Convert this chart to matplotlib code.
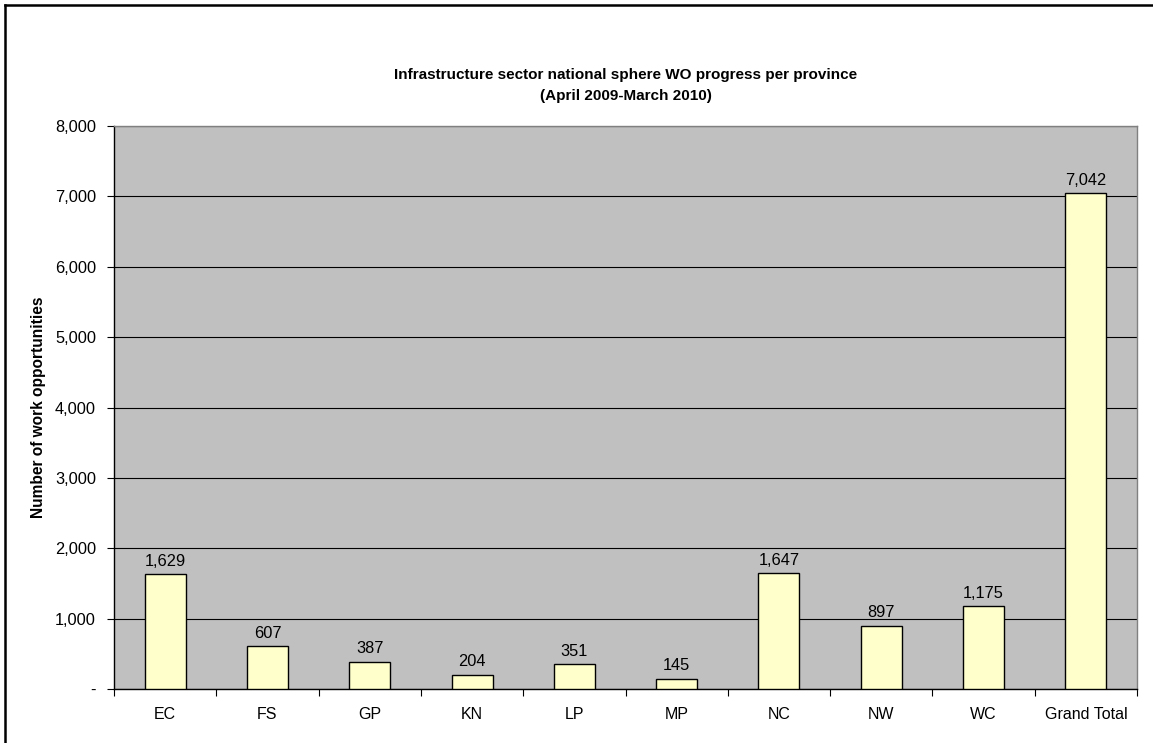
import matplotlib.pyplot as plt
from matplotlib.lines import Line2D
from matplotlib.ticker import FuncFormatter, FixedLocator
import numpy as np

plt.rcParams['font.family'] = ['Liberation Sans', 'DejaVu Sans']

provinces = ["EC", "FS", "GP", "KN", "LP", "MP", "NC", "NW", "WC", "Grand Total"]
work_opportunities = [1629, 607, 387, 204, 351, 145, 1647, 897, 1175, 7042]

W, H = 1153, 743
fig = plt.figure(figsize=(W / 100, H / 100), dpi=100)
ax = fig.add_axes([114 / W, 1 - 689 / H, (1137 - 114) / W, (689 - 126) / H])

x = np.arange(len(provinces))
ax.bar(x, work_opportunities, width=0.4, color="#FFFFCC", edgecolor="black",
       linewidth=1.0, zorder=3)
for xi, v in zip(x, work_opportunities):
    ax.annotate(f"{v:,}", (xi, v), xytext=(0, 4), textcoords="offset points",
                ha="center", va="bottom", fontsize=11.8)

ax.set_facecolor("#C0C0C0")
ax.set_xlim(-0.5, len(provinces) - 0.5)
ax.set_ylim(0, 8000)
ax.set_yticks(np.arange(0, 8001, 1000))
ax.yaxis.set_major_formatter(FuncFormatter(lambda v, p: "-" if v == 0 else f"{int(v):,}"))
ax.grid(axis="y", color="black", linewidth=0.8, zorder=1)
ax.set_axisbelow(True)

# category labels centered, tick marks on the boundaries
ax.set_xticks(x)
ax.set_xticklabels(provinces)
ax.xaxis.set_minor_locator(FixedLocator(np.arange(-0.5, len(provinces), 1.0)))
ax.tick_params(axis="x", which="major", length=0, pad=13, labelsize=11.5)
ax.tick_params(axis="x", which="minor", length=5, width=0.8, direction="out")
ax.tick_params(axis="y", length=5, width=0.8, direction="out", labelsize=11.8, pad=8)

for side in ["top", "right"]:
    ax.spines[side].set_color("#808080")
    ax.spines[side].set_linewidth(1.0)
for side in ["left", "bottom"]:
    ax.spines[side].set_color("black")
    ax.spines[side].set_linewidth(1.0)

ax.set_ylabel("Number of work opportunities", fontsize=11.2, fontweight="bold")
ax.yaxis.set_label_coords((46 - 114) / (1137 - 114), 0.5)

fig.text(0.5 * (114 + 1137) / W, 1 - 75 / H,
         "Infrastructure sector national sphere WO progress per province",
         ha="center", va="center", fontsize=11, fontweight="bold")
fig.text(0.5 * (114 + 1137) / W, 1 - 96 / H, "(April 2009-March 2010)",
         ha="center", va="center", fontsize=11, fontweight="bold")

# chart border along the top and left edges
fig.add_artist(Line2D([5 / W, 5 / W], [0, 1 - 5 / H], color="black", linewidth=1.8,
                      transform=fig.transFigure))
fig.add_artist(Line2D([5 / W, 1], [1 - 5 / H, 1 - 5 / H], color="black", linewidth=1.8,
                      transform=fig.transFigure))

fig.savefig("out.png", dpi=100)
